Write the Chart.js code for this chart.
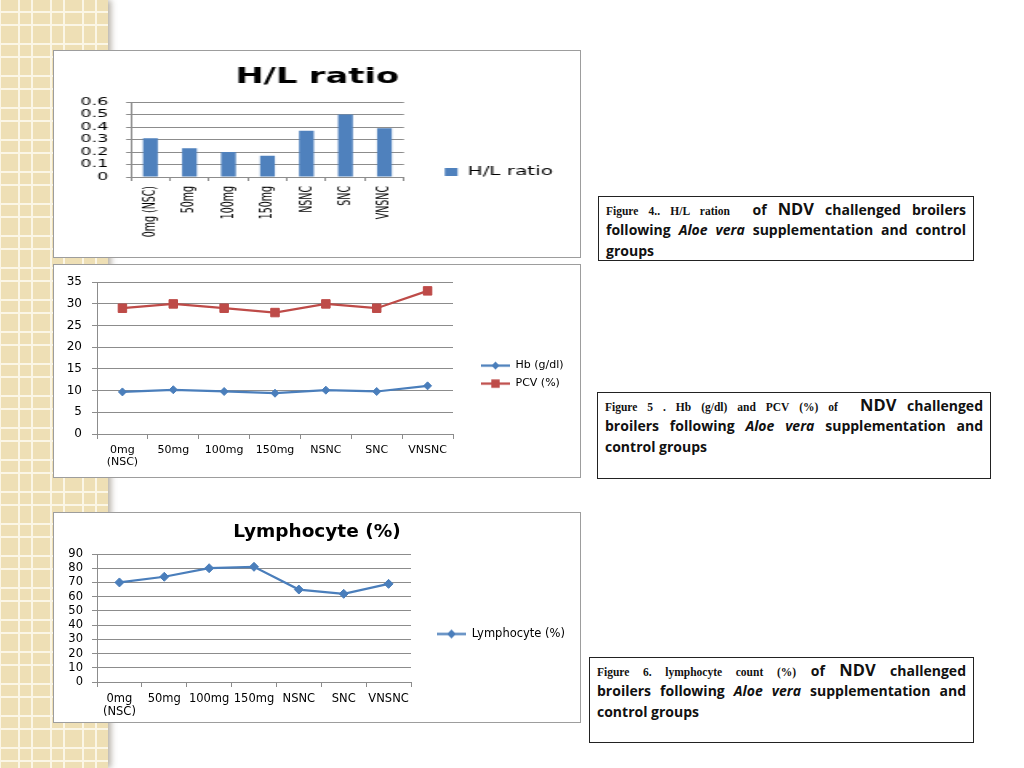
<!DOCTYPE html>
<html>
<head>
<meta charset="utf-8">
<script src="https://cdn.jsdelivr.net/npm/chart.js@4.4.1/dist/chart.umd.min.js"></script>
<style>
  html, body { margin: 0; padding: 0; background: #fff; }
  body { width: 1024px; height: 768px; position: relative; overflow: hidden; }
  #strip {
    position: absolute; left: 0; top: 0; width: 108px; height: 768px;
    background-color: #eedfb5;
    background-image:
      linear-gradient(90deg, #fbf6e6 0 2px, transparent 2px 13px, #fbf6e6 13px 15px, transparent 15px),
      linear-gradient(180deg, #fbf6e6 0 2px, transparent 2px 13px, #fbf6e6 13px 15px, transparent 15px);
    background-size: 32px 32px;
    background-position: 18px 11px;
    box-shadow: 3px 0 6px rgba(90, 80, 60, .45);
  }
  .panel { position: absolute; box-sizing: border-box; border: 1px solid #9d9d9d; background: #fff; overflow: hidden; }
  .stretch { transform: scaleX(1.6); transform-origin: 0 0; }
  .cap { position: absolute; box-sizing: border-box; border: 1.5px solid #222; background: #fff; padding: 1px 7px 0 7px; color: #111; }
  .ln { height: 21px; line-height: 21px; }
  .j { text-align: justify; text-align-last: justify; }
  .tm { font-family: 'Liberation Serif', serif; font-weight: bold; font-size: 11.5px; }
  .gs { font-family: 'Open Sans', sans-serif; font-weight: 700; font-size: 14px; }
  .big { font-size: 16.5px; }
</style>
</head>
<body>
<div id="strip"></div>

<div class="panel" style="left:53px;top:50px;width:528px;height:208px">
  <div class="stretch"><canvas id="c1" width="329" height="206"></canvas></div>
</div>
<div class="panel" style="left:53px;top:264px;width:528px;height:214px">
  <canvas id="c2" width="526" height="212"></canvas>
</div>
<div class="panel" style="left:53px;top:512px;width:528px;height:211px">
  <canvas id="c3" width="526" height="209"></canvas>
</div>

<div class="cap" style="left:598px;top:196px;width:376px;height:65px">
  <div class="ln j"><span class="tm">Figure 4.. H/L ration</span> &nbsp;<span class="gs">of <span class="big">NDV</span> challenged broilers</span></div>
  <div class="ln j"><span class="gs">following <i>Aloe vera</i> supplementation and control</span></div>
  <div class="ln"><span class="gs">groups</span></div>
</div>
<div class="cap" style="left:597px;top:392px;width:394px;height:87px">
  <div class="ln j"><span class="tm">Figure 5 . Hb (g/dl) and PCV (%) of</span> &nbsp;<span class="gs"><span class="big">NDV</span> challenged</span></div>
  <div class="ln j"><span class="gs">broilers following <i>Aloe vera</i> supplementation and</span></div>
  <div class="ln"><span class="gs">control groups</span></div>
</div>
<div class="cap" style="left:589px;top:657px;width:385px;height:86px">
  <div class="ln j"><span class="tm">Figure 6. lymphocyte count (%)</span> <span class="gs">of <span class="big">NDV</span> challenged</span></div>
  <div class="ln j"><span class="gs">broilers following <i>Aloe vera</i> supplementation and</span></div>
  <div class="ln"><span class="gs">control groups</span></div>
</div>

<script>
// Groups on the x axis
const groups = ["0mg (NSC)", "50mg", "100mg", "150mg", "NSNC", "SNC", "VNSNC"];
const groupsTwoLine = [["0mg", "(NSC)"], "50mg", "100mg", "150mg", "NSNC", "SNC", "VNSNC"];

// Figure 4: H/L ratio
const hlRatio = [0.31, 0.23, 0.20, 0.17, 0.37, 0.50, 0.39];
const hlTicks = [0, 0.1, 0.2, 0.3, 0.4, 0.5, 0.6];

// Figure 5: Hb (g/dl) and PCV (%)
const hb = [9.7, 10.2, 9.8, 9.4, 10.1, 9.8, 11.1];
const pcv = [29, 30, 29, 28, 30, 29, 33];
const bloodTicks = [0, 5, 10, 15, 20, 25, 30, 35];

// Figure 6: lymphocyte (%)
const lymphocyte = [70, 74, 80, 81, 65, 62, 69];
const lymphTicks = [0, 10, 20, 30, 40, 50, 60, 70, 80, 90];

const gridColor = "#8c8c8c";
const blue = "#4a7ebb";
const red = "#be4b48";
const narrow = "'Liberation Sans Narrow', 'DejaVu Sans Condensed', 'Liberation Sans', sans-serif";

Chart.defaults.font.family = "'DejaVu Sans', sans-serif";
Chart.defaults.color = "#000";

// puts the legend next to the plot, centred on plot + x labels (like Excel)
const legendBeside = {
  id: "legendBeside",
  afterLayout(chart, args, opts) {
    const lg = chart.legend;
    if (!lg) return;
    const area = chart.chartArea;
    lg.left = area.right + (opts.gap || 0);
    lg.right = chart.width;
    lg.top = area.top;
    lg.bottom = area.bottom + (opts.below || 0);
  }
};

// legend symbol: a short line with the marker in the middle
function legendIcon(color, shape, size) {
  const c = document.createElement("canvas");
  c.width = 29; c.height = 13;
  const g = c.getContext("2d");
  g.strokeStyle = color; g.lineWidth = 2.25;
  g.beginPath(); g.moveTo(0, 6.5); g.lineTo(29, 6.5); g.stroke();
  g.fillStyle = color;
  g.beginPath();
  if (shape === "rect") {
    g.rect(14.5 - size, 6.5 - size, size * 2, size * 2);
  } else {
    g.moveTo(14.5, 6.5 - size); g.lineTo(14.5 + size, 6.5);
    g.lineTo(14.5, 6.5 + size); g.lineTo(14.5 - size, 6.5);
    g.closePath();
  }
  g.fill();
  return c;
}

function fixedTicks(list) {
  return scale => { scale.ticks = list.map(v => ({ value: v })); };
}

// ---- Figure 4: bar chart (drawn narrow, stretched sideways like the slide)
new Chart(document.getElementById("c1"), {
  type: "bar",
  data: {
    labels: groups,
    datasets: [{
      label: "H/L ratio",
      data: hlRatio,
      backgroundColor: "#4f81bd",
      barPercentage: 0.38,
      categoryPercentage: 1
    }]
  },
  options: {
    responsive: false,
    animation: false,
    layout: { padding: 0 },
    plugins: {
      title: {
        display: true, text: "H/L ratio", color: "#000",
        font: { size: 21, weight: "bold" },
        padding: { top: 13.9, bottom: 11.9 }
      },
      legend: {
        position: "right", maxWidth: 110.25,
        labels: { boxWidth: 8, boxHeight: 8, padding: 40, font: { size: 12.5 } }
      },
      legendBeside: { gap: -14.5, below: 65 },
      tooltip: { enabled: false }
    },
    scales: {
      x: {
        ticks: { autoSkip: false, maxRotation: 90, minRotation: 90, padding: 5, font: { family: narrow, size: 10.5 } },
        grid: { offset: true, drawOnChartArea: false, tickLength: 4, color: gridColor },
        border: { color: gridColor },
        afterFit: s => { s.height = 80; }
      },
      y: {
        min: 0, max: 0.6,
        afterBuildTicks: fixedTicks(hlTicks),
        ticks: { autoSkip: false, padding: 11, font: { size: 11 }, callback: v => v === 0 ? "0" : v.toFixed(1) },
        grid: { color: gridColor, tickLength: 3 },
        border: { color: gridColor },
        afterFit: s => { s.width = 48.1; }
      }
    }
  },
  plugins: [legendBeside]
});

// ---- Figure 5: Hb and PCV lines
const bloodIcons = [legendIcon(blue, "diamond", 4), legendIcon(red, "rect", 4.2)];
new Chart(document.getElementById("c2"), {
  type: "line",
  data: {
    labels: groupsTwoLine,
    datasets: [
      { label: "Hb (g/dl)", data: hb, borderColor: blue, backgroundColor: blue, borderWidth: 2.25,
        pointStyle: "rectRot", pointRadius: 4, pointBorderWidth: 1, tension: 0 },
      { label: "PCV (%)", data: pcv, borderColor: red, backgroundColor: red, borderWidth: 2.25,
        pointStyle: "rect", pointRadius: 6, pointBorderWidth: 1, tension: 0 }
    ]
  },
  options: {
    responsive: false,
    animation: false,
    layout: { padding: { top: 10, right: 77, bottom: 0, left: 0 } },
    plugins: {
      legend: {
        position: "right", maxWidth: 50,
        labels: {
          usePointStyle: true, pointStyleWidth: 29, padding: 7, font: { size: 11 },
          generateLabels(chart) {
            const items = Chart.defaults.plugins.legend.labels.generateLabels(chart);
            items.forEach((it, i) => { it.pointStyle = bloodIcons[i]; });
            return items;
          }
        }
      },
      legendBeside: { gap: 21, below: 33 },
      tooltip: { enabled: false }
    },
    scales: {
      x: {
        offset: true,
        ticks: { autoSkip: false, maxRotation: 0, padding: 5, font: { size: 11, lineHeight: 1.1 } },
        grid: { offset: true, drawOnChartArea: false, tickLength: 5, color: gridColor },
        border: { color: gridColor },
        afterFit: s => { s.height = 43; }
      },
      y: {
        min: 0, max: 35,
        afterBuildTicks: fixedTicks(bloodTicks),
        ticks: { autoSkip: false, padding: 10, font: { size: 12 } },
        grid: { color: gridColor, tickLength: 5 },
        border: { color: gridColor },
        afterFit: s => { s.width = 43; }
      }
    }
  },
  plugins: [legendBeside]
});

// ---- Figure 6: lymphocyte line
const lymphIcons = [legendIcon(blue, "diamond", 4.5)];
new Chart(document.getElementById("c3"), {
  type: "line",
  data: {
    labels: groupsTwoLine,
    datasets: [
      { label: "Lymphocyte (%)", data: lymphocyte, borderColor: blue, backgroundColor: blue, borderWidth: 2.25,
        pointStyle: "rectRot", pointRadius: 4.5, pointBorderWidth: 1, tension: 0 }
    ]
  },
  options: {
    responsive: false,
    animation: false,
    layout: { padding: 0 },
    plugins: {
      title: {
        display: true, text: "Lymphocyte (%)", color: "#000",
        font: { size: 18.5, weight: "bold" },
        padding: { top: 7.9, bottom: 10.9 }
      },
      legend: {
        position: "right", maxWidth: 169,
        labels: {
          usePointStyle: true, pointStyleWidth: 29, padding: 40, font: { size: 11.5 },
          generateLabels(chart) {
            const items = Chart.defaults.plugins.legend.labels.generateLabels(chart);
            items.forEach((it, i) => { it.pointStyle = lymphIcons[i]; });
            return items;
          }
        }
      },
      legendBeside: { gap: -14, below: 32 },
      tooltip: { enabled: false }
    },
    scales: {
      x: {
        offset: true,
        ticks: { autoSkip: false, maxRotation: 0, padding: 5, font: { size: 11.5, lineHeight: 1.15 } },
        grid: { offset: true, drawOnChartArea: false, tickLength: 5, color: gridColor },
        border: { color: gridColor },
        afterFit: s => { s.height = 40; }
      },
      y: {
        min: 0, max: 90,
        afterBuildTicks: fixedTicks(lymphTicks),
        ticks: { autoSkip: false, padding: 9, font: { size: 11.5 } },
        grid: { color: gridColor, tickLength: 5 },
        border: { color: gridColor },
        afterFit: s => { s.width = 43; }
      }
    }
  },
  plugins: [legendBeside]
});
</script>
</body>
</html>
